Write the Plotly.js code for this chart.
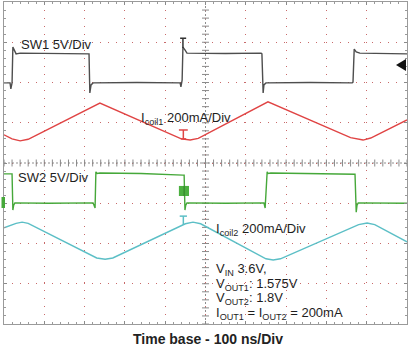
<!DOCTYPE html>
<html>
<head>
<meta charset="utf-8">
<script src="https://cdn.plot.ly/plotly-3.0.1.min.js"></script>
<style>html,body{margin:0;padding:0;background:#fff;}#chart{width:410px;height:352px;}</style>
</head>
<body>
<div id="chart"></div>
<script>
// Time in ns (100 ns/div), vertical position in divisions (0..8)
const sw1Time = [0,15,17,20,22,25,30,40,120,208,211,213,216,221,330,437,439,442,444,449,454,550,638,640,643,645,650,760,864,866,869,874,883,1000];
const sw1Value = [5.99,5.99,5.84,5.99,6.88,6.81,6.71,6.73,6.72,6.71,6.71,5.74,5.94,5.99,6.00,5.99,5.89,6.06,6.88,6.81,6.73,6.72,6.73,6.71,5.74,5.94,5.99,6.00,5.99,6.01,6.83,6.76,6.73,6.71];

const icoil1Time = [0,20,40,60,238,440,462,482,655,860,891,910,1000];
const icoil1Value = [4.70,4.60,4.55,4.59,5.49,4.60,4.57,4.61,5.52,4.63,4.57,4.62,5.07];

const sw2Time = [0,20,22,24,27,110,221,226,228,231,238,340,444,447,449,451,454,550,645,648,653,655,662,760,869,871,874,876,879,1000];
const sw2Value = [3.73,3.73,2.83,2.95,3.01,3.00,3.01,2.88,3.78,3.74,3.75,3.74,3.70,3.70,2.83,2.95,3.01,3.00,3.01,2.88,3.78,3.74,3.75,3.74,3.72,3.72,2.78,2.95,3.01,3.00];

const icoil2Time = [0,30,45,60,230,251,270,450,469,488,650,668,686,880,901,920,1000];
const icoil2Value = [2.39,2.50,2.53,2.50,1.64,1.61,1.64,2.49,2.53,2.49,1.62,1.59,1.62,2.47,2.51,2.47,2.04];

const font = 'Liberation Sans, Arial, sans-serif';
const txt = '#1e1e1e';

const traces = [
  {x: sw1Time, y: sw1Value, mode: 'lines', line: {color: '#4e4e4e', width: 1.4}, hoverinfo: 'skip'},
  {x: icoil1Time, y: icoil1Value, mode: 'lines', line: {color: '#e04444', width: 1.4}, hoverinfo: 'skip'},
  {x: sw2Time, y: sw2Value, mode: 'lines', line: {color: '#46a83a', width: 1.4}, hoverinfo: 'skip'},
  {x: icoil2Time, y: icoil2Value, mode: 'lines', line: {color: '#5cbfc6', width: 1.4}, hoverinfo: 'skip'}
];

// center crosshair tick marks (decoration)
const hx = [], hy = [], vx = [], vy = [];
for (let t = 0; t <= 1000; t += 20) { hx.push(t); hy.push(4); }
for (let d = 0; d <= 8; d += 0.2) { vx.push(500); vy.push(d); }
traces.unshift({x: hx, y: hy, mode: 'markers', marker: {symbol: 'line-ns', size: 5, line: {color: '#8a8a8a', width: 1}}, hoverinfo: 'skip'});
traces.unshift({x: vx, y: vy, mode: 'markers', marker: {symbol: 'line-ew', size: 5, line: {color: '#8a8a8a', width: 1}}, hoverinfo: 'skip'});

const ann = (x, y, text, extra) => Object.assign({xref: 'paper', yref: 'paper', x: x, y: y, text: text, showarrow: false, xanchor: 'left', yanchor: 'middle', font: {family: font, size: 13, color: txt}}, extra || {});

const px = p => (p - 4) / 403;
const py = p => (324 - p) / 322;

const layout = {
  width: 410, height: 352,
  margin: {l: 4, r: 3, t: 2, b: 28},
  paper_bgcolor: '#ffffff', plot_bgcolor: '#ffffff',
  showlegend: false,
  xaxis: {range: [0, 1000], dtick: 100, tick0: 0, showticklabels: false, showgrid: true, gridcolor: '#c86a6a', griddash: '1px,7px', gridwidth: 1,
          zeroline: false, showline: true, linecolor: '#9a9a9a', linewidth: 1, mirror: 'allticks', ticks: 'inside', ticklen: 3, tickcolor: '#8a8a8a',
          minor: {dtick: 20, ticks: 'inside', ticklen: 2, tickcolor: '#9a9a9a', showgrid: false}, fixedrange: true},
  yaxis: {range: [0, 8], dtick: 1, tick0: 0, showticklabels: false, showgrid: true, gridcolor: '#c86a6a', griddash: '1px,7px', gridwidth: 1,
          zeroline: false, showline: true, linecolor: '#9a9a9a', linewidth: 1, mirror: 'allticks', ticks: 'inside', ticklen: 3, tickcolor: '#8a8a8a',
          minor: {dtick: 0.2, ticks: 'inside', ticklen: 2, tickcolor: '#9a9a9a', showgrid: false}, fixedrange: true},
  shapes: [
    {type: 'line', xref: 'x', yref: 'y', x0: 500, x1: 500, y0: 0, y1: 8, line: {color: '#8f8f8f', width: 1, dash: '2px,2px'}, layer: 'below'},
    {type: 'line', xref: 'x', yref: 'y', x0: 0, x1: 1000, y0: 4, y1: 4, line: {color: '#8f8f8f', width: 1, dash: '2px,2px'}, layer: 'below'},
    // SW1 marker (T)
    {type: 'line', xref: 'x', yref: 'y', x0: 437, x1: 452, y0: 7.10, y1: 7.10, line: {color: '#333', width: 1.5}},
    {type: 'line', xref: 'x', yref: 'y', x0: 444, x1: 444, y0: 7.10, y1: 6.86, line: {color: '#333', width: 1.5}},
    // Icoil1 marker (I)
    {type: 'line', xref: 'x', yref: 'y', x0: 434, x1: 456, y0: 4.82, y1: 4.82, line: {color: '#e04444', width: 1.5}},
    {type: 'line', xref: 'x', yref: 'y', x0: 445, x1: 445, y0: 4.82, y1: 4.60, line: {color: '#e04444', width: 1.5}},
    {type: 'line', xref: 'x', yref: 'y', x0: 439, x1: 452, y0: 4.60, y1: 4.60, line: {color: '#e04444', width: 1.5}},
    // SW2 marker (box)
    {type: 'rect', xref: 'x', yref: 'y', x0: 434, x1: 459, y0: 3.18, y1: 3.43, fillcolor: '#4cb040', line: {width: 0}},
    {type: 'line', xref: 'x', yref: 'y', x0: 447, x1: 447, y0: 3.18, y1: 3.43, line: {color: '#2f7d27', width: 1}},
    // Icoil2 marker (T)
    {type: 'line', xref: 'x', yref: 'y', x0: 436, x1: 454, y0: 2.68, y1: 2.68, line: {color: '#5cbfc6', width: 1.5}},
    {type: 'line', xref: 'x', yref: 'y', x0: 445, x1: 445, y0: 2.68, y1: 2.46, line: {color: '#5cbfc6', width: 1.5}},
    // trigger arrow at right edge
    {type: 'path', xref: 'paper', yref: 'paper', path: 'M ' + px(396) + ' ' + py(65) + ' L ' + px(406) + ' ' + py(59) + ' L ' + px(406) + ' ' + py(71) + ' Z', fillcolor: '#111', line: {width: 0}},
    // SW2 ground marker at left edge
    {type: 'rect', xref: 'paper', yref: 'paper', x0: px(1.5), x1: px(5), y0: py(208), y1: py(197), fillcolor: '#46a83a', line: {width: 0}}
  ],
  annotations: [
    ann(px(19), py(44), 'SW1 5V/Div'),
    ann(px(139), py(118), 'I<sub>coil1</sub> 200mA/Div'),
    ann(px(16), py(177), 'SW2 5V/Div'),
    ann(px(214), py(229), 'I<sub>coil2</sub> 200mA/Div'),
    ann(px(214), py(269), 'V<sub>IN</sub> 3.6V,'),
    ann(px(214), py(284), 'V<sub>OUT1</sub>: 1.575V'),
    ann(px(214), py(298), 'V<sub>OUT2</sub>: 1.8V'),
    ann(px(214), py(313), 'I<sub>OUT1</sub> = I<sub>OUT2</sub> = 200mA'),
    ann(px(208.5), py(339), '<b>Time base - 100 ns/Div</b>', {xanchor: 'center', font: {family: font, size: 14, color: '#222'}})
  ]
};

Plotly.newPlot('chart', traces, layout, {displayModeBar: false, staticPlot: true});
</script>
</body>
</html>
